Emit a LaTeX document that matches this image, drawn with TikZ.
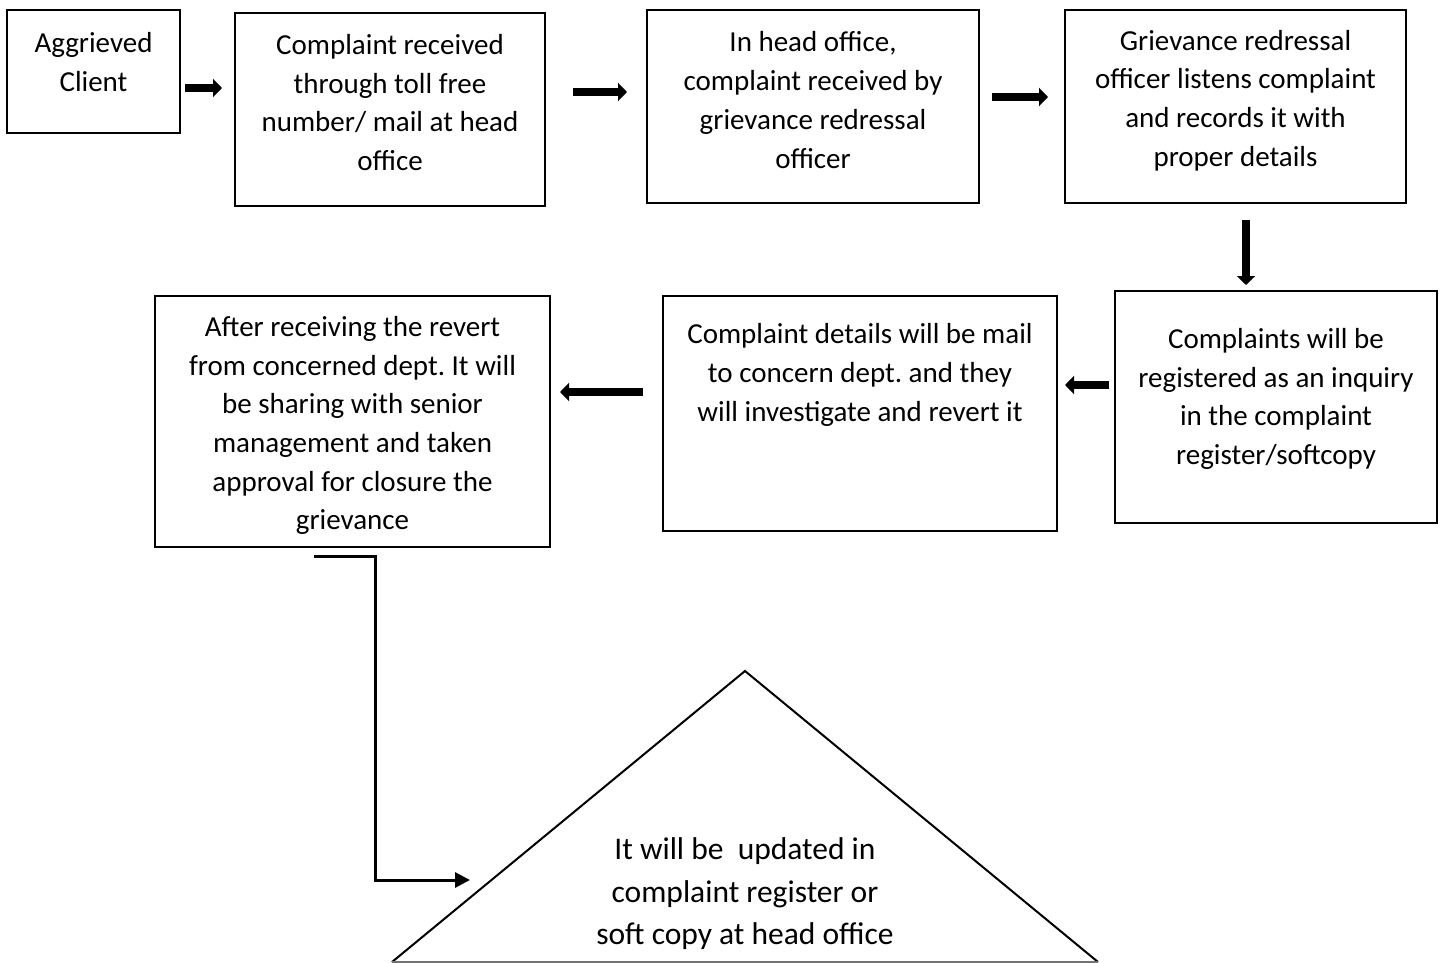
\documentclass[tikz,border=0pt]{standalone}
\usepackage{fontspec}
\setmainfont{Carlito}
\frenchspacing
\usetikzlibrary{arrows.meta,calc}
\begin{document}
\begin{tikzpicture}[x=1pt,y=-1pt,
  box/.style={draw=black,line width=2pt,rectangle,inner sep=0pt},
  txt/.style={align=center,inner sep=0pt,font=\fontsize{29}{38.7}\selectfont},
  bigtxt/.style={align=center,inner sep=0pt,font=\fontsize{31.5}{42.5}\selectfont},
  arr/.style={line width=7.5pt,-{Triangle[length=9pt,width=18pt]}},
  elbow/.style={line width=3pt,-{Triangle[length=15pt,width=15pt]}}]
\useasboundingbox (0,0) rectangle (1443,963);
% boxes
\node[box,minimum width=173pt,minimum height=123pt] (b1) at (93.5,71.5) {};
\node[box,minimum width=310pt,minimum height=193pt] (b2) at (390,109.5) {};
\node[box,minimum width=332pt,minimum height=193pt] (b3) at (813,106.5) {};
\node[box,minimum width=341pt,minimum height=193pt] (b4) at (1235.5,106.5) {};
\node[box,minimum width=322pt,minimum height=232pt] (b5) at (1276,407) {};
\node[box,minimum width=394pt,minimum height=235pt] (b6) at (860,413.5) {};
\node[box,minimum width=395pt,minimum height=251pt] (b7) at (352.5,421.5) {};
% texts
\node[txt] (t1) at (93.5,62) {Aggrieved\\Client};
\node[txt] (t2) at (390,102.5) {Complaint received\\through toll free\\number/ mail at head\\office};
\node[txt] (t3) at (813,100) {In head office,\\complaint received by\\grievance redressal\\officer};
\node[txt] (t4) at (1235.5,100.5) {Grievance redressal\\officer listens complaint\\and records it with\\proper details};
\node[txt] (t5) at (1276,399) {Complaints will be\\registered as an inquiry\\in the complaint\\register/softcopy};
\node[txt] (t6) at (860,375) {Complaint details will be mail\\to concern dept. and they\\will investigate and revert it};
\node[txt] (t7) at (352.5,425.5) {After receiving the revert\\from concerned dept. It will\\be sharing with senior\\management and taken\\approval for closure the\\grievance};
% triangle
\coordinate (apex) at (745,671);
\coordinate (bl) at (392,962);
\coordinate (br) at (1098,962);
\draw[line width=2pt,line join=miter] (bl) -- (apex) -- (br);
\draw[line width=1.5pt,draw=black!55] (bl) -- (br);
\node[bigtxt] (t8) at (745,894) {It will be~ updated in\\complaint register or\\soft copy at head office};
% arrows
\coordinate (a1s) at (185,88);  \coordinate (a1e) at (222,88);
\coordinate (a2s) at (573,92);  \coordinate (a2e) at (627,92);
\coordinate (a3s) at (992,97);  \coordinate (a3e) at (1048,97);
\coordinate (a4s) at (1246,220); \coordinate (a4e) at (1246,285);
\coordinate (a5s) at (1109,385); \coordinate (a5e) at (1065,385);
\coordinate (a6s) at (643,392);  \coordinate (a6e) at (560,392);
\draw[arr] (a1s) -- (a1e);
\draw[arr] (a2s) -- (a2e);
\draw[arr] (a3s) -- (a3e);
\draw[arr] (a4s) -- (a4e);
\draw[arr] (a5s) -- (a5e);
\draw[arr] (a6s) -- (a6e);
\coordinate (e1) at (314,556);
\coordinate (e2) at (470,880);
\draw[elbow] (e1) -- (375,556) -- (375,880) -- (e2);
\end{tikzpicture}
\end{document}
